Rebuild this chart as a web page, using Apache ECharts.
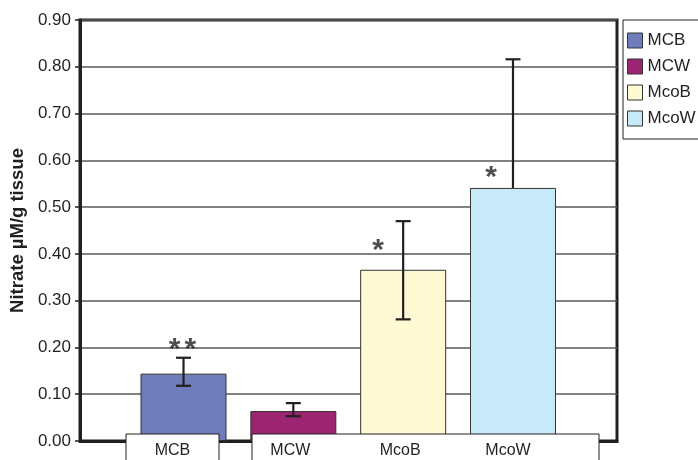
<!DOCTYPE html>
<html>
<head>
<meta charset="utf-8">
<script src="https://cdn.jsdelivr.net/npm/echarts@6/dist/echarts.min.js"></script>
<style>html,body{margin:0;padding:0;background:#fff}#c{width:698px;height:460px}</style>
</head>
<body>
<div id="c"></div>
<script>
var categories = ['MCB', 'MCW', 'McoB', 'McoW'];
var values = [0.144, 0.064, 0.366, 0.541];
var errHigh = [0.178, 0.081, 0.470, 0.816];
var errLow = [0.118, 0.053, 0.260, null];
var colors = ['#6f7dbc', '#9d2471', '#fffad4', '#c8e9f8'];
var yTicks = [0, 0.1, 0.2, 0.3, 0.4, 0.5, 0.6, 0.7, 0.8, 0.9];
var sigLabels = ['**', '*', '*'];
var sigCat = [0, 2, 3];
var sigY = [0.208, 0.420, 0.576];
var sigShift = [[-1, 6], [-25, 6], [-22, 6]];
var labelShift = [-11, -3, -3, -5];

var INK = '#231f20';
var FONT = '"Liberation Sans", Arial, sans-serif';

var barSeries = categories.map(function (c, i) {
  return {
    name: c, type: 'bar', xAxisIndex: 1, yAxisIndex: 1,
    barWidth: 86, barGap: '-100%',
    itemStyle: { color: colors[i], borderColor: '#333', borderWidth: 1 },
    data: categories.map(function (_, j) { return j === i ? values[i] : '-'; })
  };
});

var errData = categories.map(function (c, i) {
  return [i, errLow[i] == null ? values[i] : errLow[i], errHigh[i], errLow[i] == null ? 0 : 1];
});

var rich = {};
labelShift.forEach(function (s, i) {
  rich['s' + i] = { fontSize: 16, color: INK, fontFamily: FONT,
    padding: s < 0 ? [0, -2 * s, 0, 0] : [0, 0, 0, 2 * s] };
});

var option = {
  animation: false,
  textStyle: { fontFamily: FONT },
  grid: [
    { left: 80, top: 20, width: 537, height: 421, show: true, borderColor: INK, borderWidth: 3, backgroundColor: 'transparent' },
    { left: 128.6, top: 20, width: 439.3, height: 421 }
  ],
  xAxis: [
    { type: 'value', gridIndex: 0, min: 0, max: 1, axisLine: { show: true, onZero: false, lineStyle: { color: INK, width: 3 } },
      axisTick: { show: false }, axisLabel: { show: false }, splitLine: { show: false } },
    { type: 'category', gridIndex: 1, data: categories, z: 200,
      axisLine: { show: false }, axisTick: { show: false },
      axisLabel: { fontSize: 16, color: INK, margin: 2, fontFamily: FONT, rich: rich,
        formatter: function (v, idx) { return '{s' + idx + '|' + v + '}'; } } }
  ],
  yAxis: [
    { type: 'value', gridIndex: 0, min: 0, max: 0.9, interval: 0.1,
      name: 'Nitrate µM/g tissue', nameLocation: 'middle', nameGap: 53,
      nameTextStyle: { fontSize: 18.5, fontWeight: 'bold', color: INK, fontFamily: FONT },
      axisLine: { show: true, lineStyle: { color: INK, width: 3 } },
      axisTick: { show: true, length: 5, lineStyle: { color: INK, width: 1.5 } },
      axisLabel: { fontSize: 17, color: INK, margin: 9, fontFamily: FONT, formatter: function (v) { return v.toFixed(2); } },
      splitLine: { show: true, lineStyle: { color: '#595959', width: 1.5 } } },
    { type: 'value', gridIndex: 1, min: 0, max: 0.9, show: false }
  ],
  legend: {
    orient: 'vertical', left: 627, top: 32, padding: 0, icon: 'rect',
    itemWidth: 15, itemHeight: 15, itemGap: 9, itemStyle: { borderColor: '#333', borderWidth: 1 },
    textStyle: { fontSize: 17, color: INK, fontFamily: FONT },
    data: categories
  },
  graphic: [
    { type: 'rect', z: 150, shape: { x: 126, y: 434, width: 93, height: 40 }, style: { fill: '#fff', stroke: INK, lineWidth: 1 } },
    { type: 'rect', z: 150, shape: { x: 252, y: 434, width: 347, height: 40 }, style: { fill: '#fff', stroke: INK, lineWidth: 1 } },
    { type: 'rect', z: 1, shape: { x: 623, y: 20, width: 90, height: 119 }, style: { fill: '#fff', stroke: INK, lineWidth: 1 } }
  ],
  series: barSeries.concat([
    {
      type: 'custom', xAxisIndex: 1, yAxisIndex: 1, z: 5, data: errData,
      renderItem: function (params, api) {
        var lo = api.coord([api.value(0), api.value(1)]);
        var hi = api.coord([api.value(0), api.value(2)]);
        var x = hi[0], w = 7.5;
        var st = { stroke: INK, lineWidth: 2.2 };
        var ch = [
          { type: 'line', shape: { x1: x, y1: lo[1], x2: x, y2: hi[1] }, style: st },
          { type: 'line', shape: { x1: x - w, y1: hi[1], x2: x + w, y2: hi[1] }, style: st }
        ];
        if (api.value(3) === 1) ch.push({ type: 'line', shape: { x1: x - w, y1: lo[1], x2: x + w, y2: lo[1] }, style: st });
        return { type: 'group', children: ch };
      }
    },
    {
      type: 'scatter', xAxisIndex: 1, yAxisIndex: 1, symbolSize: 0, z: 6,
      data: sigCat.map(function (c, i) {
        return { value: [c, sigY[i]], label: {
          formatter: sigLabels[i].split('').map(function (ch) { return '{a|' + ch + '}'; }).join(''),
          offset: sigShift[i] } };
      }),
      label: { show: true, position: 'inside', fontSize: 30, fontWeight: 'bold', color: INK, fontFamily: FONT,
        rich: { a: { fontSize: 30, fontWeight: 'bold', color: INK, fontFamily: FONT, padding: [0, 2, 0, 2] } } }
    }
  ])
};
echarts.init(document.getElementById('c')).setOption(option);
</script>
</body>
</html>
